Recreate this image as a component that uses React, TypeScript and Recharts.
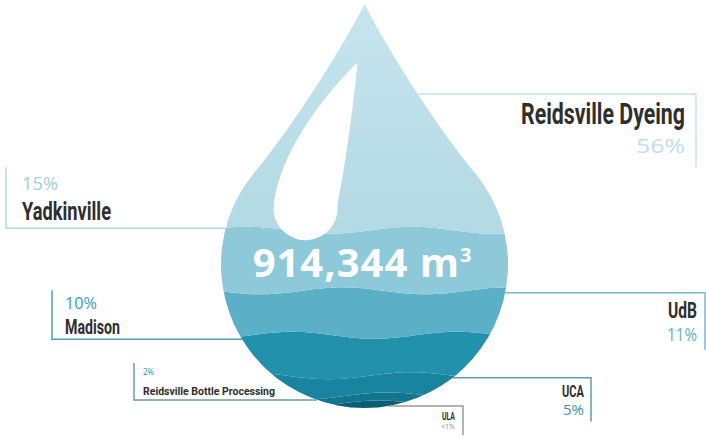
import React from 'react';
import { BarChart, Bar, XAxis, YAxis, LabelList } from 'recharts';

// water sources, bottom of the drop first (stack order)
const sourceKeys = ['ula', 'bottle', 'uca', 'madison', 'udb', 'yadkinville', 'dyeing'];
const sourceNames = ['ULA', 'Reidsville Bottle Processing', 'UCA', 'Madison', 'UdB', 'Yadkinville', 'Reidsville Dyeing'];
const shares = [1, 2, 5, 10, 11, 15, 56];
const shareLabels = ['<1%', '2%', '5%', '10%', '11%', '15%', '56%'];
const totalVolume = '914,344';

const bandColors = ['#0b5f75', '#117590', '#19849f', '#2191ac', '#5bafc6', '#8dc9d8', '#b5dce6'];

const data = [
  sourceKeys.reduce((row: any, k, i) => ({ ...row, [k]: shares[i] }), { name: 'Water' }),
];

const W = 706;
const H = 437;
const MARGIN = { top: 4, right: 198, bottom: 29, left: 221 };

// drop outline, derived from the plot area
const plotW = W - MARGIN.left - MARGIN.right;
const plotH = H - MARGIN.top - MARGIN.bottom;
const r = plotW / 2;
const cx = MARGIN.left + r;
const cy = MARGIN.top + plotH - r;
const tipY = MARGIN.top;
const theta = (50 * Math.PI) / 180;
const pL = { x: cx - r * Math.sin(theta), y: cy - r * Math.cos(theta) };
const pR = { x: cx + r * Math.sin(theta), y: pL.y };
const k = 60;
const c1 = { x: cx - 20, y: tipY + 40 };
const c2 = { x: pL.x + k * Math.cos(theta), y: pL.y - k * Math.sin(theta) };

const dropPath =
  `M${cx},${tipY} C${c1.x},${c1.y} ${c2.x},${c2.y} ${pL.x},${pL.y} ` +
  `A${r},${r} 0 1 0 ${pR.x},${pR.y} ` +
  `C${2 * cx - c2.x},${c2.y} ${2 * cx - c1.x},${c1.y} ${cx},${tipY} Z`;

const bez = (a: number, b: number, c: number, d: number, t: number) =>
  (1 - t) ** 3 * a + 3 * (1 - t) ** 2 * t * b + 3 * (1 - t) * t * t * c + t ** 3 * d;

function dropHalfWidth(y: number) {
  if (y >= pL.y) return Math.sqrt(Math.max(0, r * r - (y - cy) ** 2));
  let lo = 0;
  let hi = 1;
  for (let n = 0; n < 30; n++) {
    const mid = (lo + hi) / 2;
    if (bez(tipY, c1.y, c2.y, pL.y, mid) < y) lo = mid;
    else hi = mid;
  }
  return cx - bez(cx, c1.x, c2.x, pL.x, lo);
}

const waveAt = (x: number, yb: number) =>
  yb + 3.5 * Math.sin(((x - MARGIN.left) / 165) * 2 * Math.PI + yb / 23);

const makeBand = (i: number) => (props: any) => {
  const { x, y, width, height } = props;
  const isTop = i === sourceKeys.length - 1;
  const isBottom = i === 0;
  const xs: number[] = [];
  for (let px = x - 6; px <= x + width + 6; px += 4) xs.push(px);
  const top = xs.map((px) => `${px},${isTop ? y - 30 : waveAt(px, y)}`);
  const bottom = xs
    .slice()
    .reverse()
    .map((px) => `${px},${isBottom ? y + height + 30 : waveAt(px, y + height)}`);
  const d = `M${top.join(' L')} L${bottom.join(' L')} Z`;
  const clipId = `drop-clip-${i}`;
  return (
    <g>
      <defs>
        <clipPath id={clipId}>
          <path d={dropPath} />
        </clipPath>
        {isTop && (
          <linearGradient id="top-grad" x1="0" y1="0" x2="0" y2="1">
            <stop offset="0%" stopColor="#c9e7ef" />
            <stop offset="100%" stopColor="#b2d9e4" />
          </linearGradient>
        )}
      </defs>
      <path d={d} fill={isTop ? 'url(#top-grad)' : bandColors[i]} clipPath={`url(#${clipId})`} />
      {isTop && (
        <>
          <path
            d={`M${cx - 7},${cy - 202} C${cx - 12},${cy - 150} ${cx - 20},${cy - 95} ${cx - 27},${cy - 60} ` +
              `A32,32 0 0 1 ${cx - 91},${cy - 53} ` +
              `C${cx - 90},${cy - 100} ${cx - 50},${cy - 160} ${cx - 7},${cy - 202} Z`}
            fill="#ffffff"
          />
          <text
            x={cx - 2}
            y={cy + 12.5}
            textAnchor="middle"
            fill="#ffffff"
            fontFamily="Open Sans, sans-serif"
            fontWeight={700}
            fontSize={40}
            letterSpacing={1}
          >
            {totalVolume} m
            <tspan fontSize={20} dy={-15}>3</tspan>
          </text>
        </>
      )}
    </g>
  );
};

// callout layout, same order as sourceKeys
const callouts = [
  { side: 'right', dy: 2, edgeX: 463, vLen: 29, textX: 455, nameY: 14, nameSize: 11.5, nameW: 13, pctY: 23, pctSize: 6.5, pctW: 14, stroke: '#9a9a9a', pctFill: '#8a8a8a' },
  { side: 'left', dy: 4, edgeX: 134, vLen: -37, textX: 143, nameY: -5, nameSize: 11.5, nameW: 132, pctY: -25, pctSize: 9, pctW: 11, stroke: '#6d9aa7', pctFill: '#2e8ba6' },
  { side: 'right', dy: 2, edgeX: 591, vLen: 44, textX: 584, nameY: 19, nameSize: 17, nameW: 22, pctY: 37, pctSize: 14, pctW: 21, stroke: '#5f9fb2', pctFill: '#3892ad' },
  { side: 'left', dy: 4, edgeX: 52, vLen: -49, textX: 65, nameY: -5, nameSize: 21, nameW: 55, pctY: -30, pctSize: 15.5, pctW: 32, stroke: '#4e9fb7', pctFill: '#3d9ab5' },
  { side: 'right', dy: 2, edgeX: 705, vLen: 57, textX: 697, nameY: 25, nameSize: 22.5, nameW: 29, pctY: 48, pctSize: 18, pctW: 30, stroke: '#79b9cb', pctFill: '#65b0c6' },
  { side: 'left', dy: -2, edgeX: 6, vLen: -61, textX: 22, nameY: -8, nameSize: 26.5, nameW: 89, pctY: -38, pctSize: 18, pctW: 36, stroke: '#b6dbe5', pctFill: '#9fd0de' },
  { side: 'right', dy: 90, edgeX: 696, vLen: 73, textX: 685, nameY: 30, nameSize: 29.5, nameW: 164, pctY: 59, pctSize: 19.5, pctW: 49, stroke: '#c3e2ea', pctFill: '#bfe0e9' },
];

const makeCallout = (i: number) => (props: any) => {
  const vb = props.viewBox ?? props;
  const c = callouts[i];
  const ly = vb.y + c.dy;
  const half = dropHalfWidth(ly);
  const startX = c.side === 'right' ? cx + half : cx - half;
  const anchor = c.side === 'right' ? 'end' : 'start';
  return (
    <g>
      <polyline
        points={`${startX},${ly} ${c.edgeX},${ly} ${c.edgeX},${ly + c.vLen}`}
        fill="none"
        stroke={c.stroke}
        strokeWidth={1.5}
      />
      <text
        x={c.textX}
        y={ly + c.nameY}
        textAnchor={anchor}
        fill="#2e2e2e"
        fontFamily="Roboto, sans-serif"
        fontWeight={700}
        fontSize={c.nameSize}
        textLength={c.nameW}
        lengthAdjust="spacingAndGlyphs"
      >
        {sourceNames[i]}
      </text>
      <text
        x={c.textX}
        y={ly + c.pctY}
        textAnchor={anchor}
        fill={c.pctFill}
        fontFamily="Open Sans, sans-serif"
        fontSize={c.pctSize}
        textLength={c.pctW}
        lengthAdjust="spacingAndGlyphs"
      >
        {shareLabels[i]}
      </text>
    </g>
  );
};

export default function App() {
  return (
    <div style={{ position: 'absolute', left: 0, top: 0, width: W, height: H, background: '#fff' }}>
      <BarChart width={W} height={H} data={data} margin={MARGIN} barCategoryGap={0} barGap={0}>
        <XAxis dataKey="name" hide />
        <YAxis hide domain={[0, 100]} />
        {sourceKeys.map((key, i) => (
          <Bar
            key={key}
            dataKey={key}
            stackId="drop"
            fill={bandColors[i]}
            shape={makeBand(i)}
            isAnimationActive={false}
          >
            <LabelList dataKey={key} content={makeCallout(i)} />
          </Bar>
        ))}
      </BarChart>
    </div>
  );
}
